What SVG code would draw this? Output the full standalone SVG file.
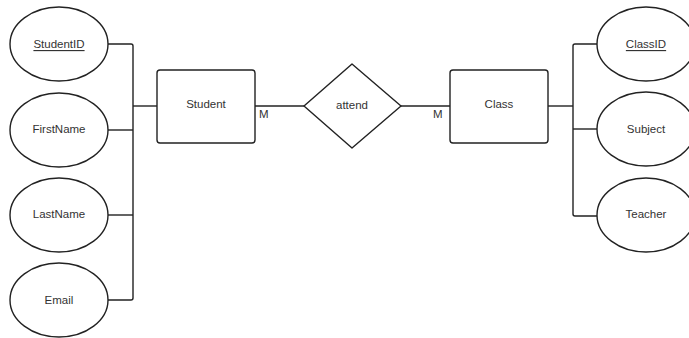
<svg xmlns="http://www.w3.org/2000/svg" width="689" height="338" viewBox="0 0 689 338">
  <style>
    .shape { fill: #ffffff; stroke: #222; stroke-width: 1.4; }
    .wire { fill: none; stroke: #222; stroke-width: 1.4; stroke-linejoin: round; }
    text { font-family: "Liberation Sans", Arial, sans-serif; font-size: 11.5px; fill: #333; text-anchor: middle; dominant-baseline: central; }
    .key { text-decoration: underline; }
    .card { text-anchor: start; }
  </style>
  <rect width="689" height="338" fill="#ffffff"/>

  <!-- connectors -->
  <g id="connectors">
    <!-- Student attributes -->
    <path class="wire" d="M108 44 H131 Q133 44 133 46 V298 Q133 300 131 300 H108"/>
    <path class="wire" d="M108 130 H133"/>
    <path class="wire" d="M108 215 H133"/>
    <path class="wire" d="M133 106 H157"/>
    <!-- relationship -->
    <path class="wire" d="M255 106 H304"/>
    <path class="wire" d="M401 106 H450"/>
    <!-- Class attributes -->
    <path class="wire" d="M548 106 H573"/>
    <path class="wire" d="M597 44 H575 Q573 44 573 46 V214 Q573 216 575 216 H597"/>
    <path class="wire" d="M573 129 H597"/>
    <text class="card" x="259" y="114">M</text>
    <text class="card" x="433" y="114">M</text>
  </g>

  <!-- Student entity and attributes -->
  <g id="student">
    <rect class="shape" x="157" y="70" width="98" height="73" rx="3"/>
    <text x="206" y="104">Student</text>
  </g>
  <g id="student-id">
    <ellipse class="shape" cx="59" cy="44" rx="49" ry="37"/>
    <text class="key" x="59" y="44">StudentID</text>
  </g>
  <g id="first-name">
    <ellipse class="shape" cx="59" cy="130" rx="49" ry="37"/>
    <text x="59" y="129">FirstName</text>
  </g>
  <g id="last-name">
    <ellipse class="shape" cx="59" cy="215" rx="49" ry="37"/>
    <text x="59" y="214">LastName</text>
  </g>
  <g id="email">
    <ellipse class="shape" cx="59" cy="300" rx="49" ry="37"/>
    <text x="59" y="300">Email</text>
  </g>

  <!-- attend relationship -->
  <g id="attend">
    <path class="shape" d="M352 64 L401 106 L352 148 L304 106 Z" stroke-linejoin="round"/>
    <text x="352" y="105">attend</text>
  </g>

  <!-- Class entity and attributes -->
  <g id="class">
    <rect class="shape" x="450" y="70" width="98" height="73" rx="3"/>
    <text x="499" y="104">Class</text>
  </g>
  <g id="class-id">
    <ellipse class="shape" cx="646" cy="44" rx="49" ry="37"/>
    <text class="key" x="646" y="44">ClassID</text>
  </g>
  <g id="subject">
    <ellipse class="shape" cx="646" cy="129" rx="49" ry="37"/>
    <text x="646" y="129">Subject</text>
  </g>
  <g id="teacher">
    <ellipse class="shape" cx="646" cy="215" rx="49" ry="37"/>
    <text x="646" y="214">Teacher</text>
  </g>
</svg>
